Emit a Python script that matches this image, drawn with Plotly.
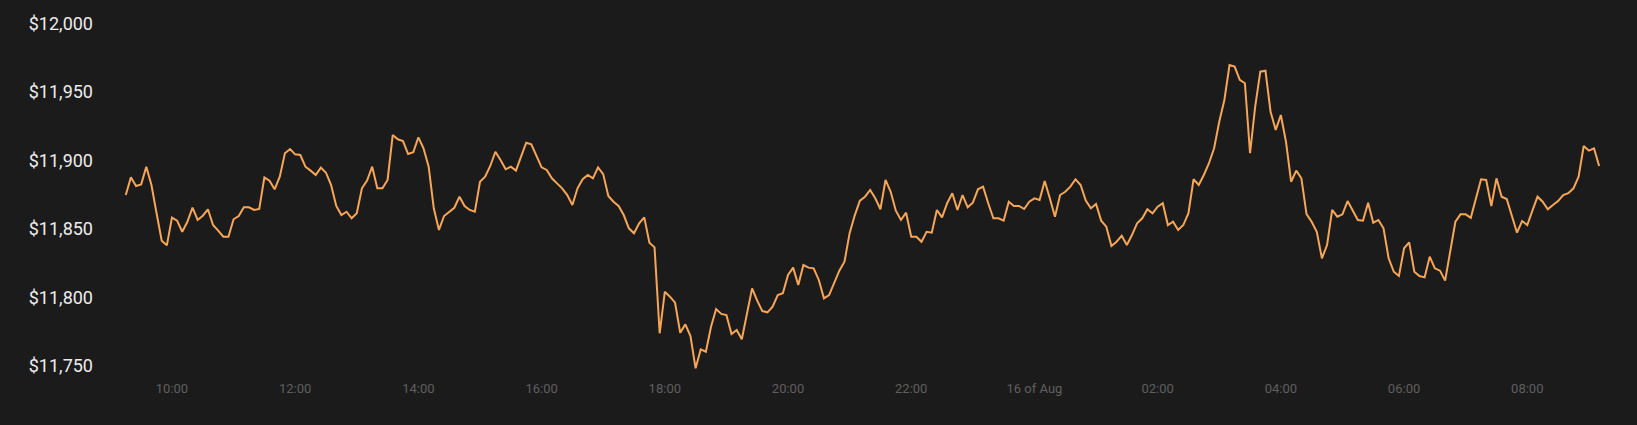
import pandas as pd
import plotly.graph_objects as go

# 5-minute BTC/USD prices, 15 Aug 09:15 -> 16 Aug 09:10
prices_part1 = [11874.8, 11887.7, 11881.4, 11882.6, 11895.5, 11882.1, 11861.5, 11841.5, 11838.1, 11858.3,
                11856.1, 11848.0, 11855.3, 11865.6, 11856.6, 11859.7, 11864.4, 11852.9, 11848.8, 11844.4,
                11844.4, 11857.1, 11859.5, 11865.8, 11865.8, 11863.9, 11864.6, 11887.7, 11885.3, 11879.0,
                11888.2, 11905.3, 11908.4, 11904.5, 11904.0, 11895.5]
prices_part2 = [11892.6, 11889.4, 11894.8, 11891.1, 11882.1, 11866.8, 11860.2, 11862.6, 11857.8, 11861.5,
                11879.7, 11885.3, 11895.5, 11879.7, 11879.7, 11885.8, 11918.6, 11915.5, 11914.2, 11904.7,
                11906.0, 11916.9, 11908.9, 11895.5, 11865.1, 11849.3, 11859.5, 11862.6, 11865.5, 11873.6,
                11866.8, 11863.9, 11862.6, 11884.5, 11888.2, 11896.0]
prices_part3 = [11906.4, 11900.4, 11893.6, 11895.5, 11892.6, 11902.8, 11913.0, 11911.8, 11904.0, 11895.0,
                11893.1, 11887.0, 11883.3, 11879.7, 11874.8, 11867.5, 11879.7, 11886.3, 11889.4, 11887.0,
                11895.0, 11890.1, 11874.1, 11869.9, 11866.8, 11860.2, 11850.5, 11846.9, 11854.2, 11858.5,
                11840.0, 11836.6, 11773.9, 11804.2, 11800.6, 11796.2]
prices_part4 = [11774.3, 11780.4, 11771.9, 11748.3, 11762.2, 11760.4, 11778.7, 11791.6, 11788.0, 11787.2,
                11773.4, 11776.3, 11769.5, 11788.5, 11806.7, 11797.7, 11790.1, 11789.2, 11793.3, 11801.8,
                11803.1, 11816.4, 11821.8, 11809.1, 11823.7, 11821.8, 11821.3, 11812.8, 11799.4, 11801.8,
                11810.4, 11819.6, 11826.1, 11847.0, 11860.0]
prices_part5 = [11870.7, 11873.6, 11878.5, 11872.4, 11864.4, 11885.8, 11877.2, 11863.4, 11856.6, 11861.9,
                11844.4, 11844.4, 11840.7, 11848.0, 11847.3, 11863.9, 11858.5, 11868.8, 11876.1, 11863.9,
                11874.8, 11865.8, 11869.2, 11879.0, 11880.9, 11868.8, 11857.8, 11857.8, 11856.1, 11869.9,
                11866.8, 11866.8, 11864.6, 11869.9, 11872.4, 11871.2]
prices_part6 = [11885.0, 11872.4, 11859.0, 11874.8, 11877.2, 11880.9, 11886.3, 11882.1, 11870.7, 11865.1,
                11868.2, 11856.1, 11851.7, 11837.6, 11840.7, 11845.1, 11838.3, 11845.6, 11854.2, 11857.8,
                11864.4, 11861.5, 11866.3, 11868.8, 11852.9, 11855.3, 11849.3, 11852.9, 11861.5, 11886.3,
                11882.1, 11889.4, 11898.0, 11908.9]
prices_part7 = [11928.3, 11944.2, 11969.7, 11968.5, 11958.8, 11956.4, 11905.3, 11939.3, 11964.8, 11965.5,
                11935.6, 11922.3, 11933.2, 11913.7, 11884.5, 11892.6, 11887.0, 11860.9, 11855.3, 11848.0,
                11828.6, 11838.3, 11863.9, 11859.0, 11860.7, 11870.4, 11863.9, 11856.6, 11856.1, 11869.2,
                11854.6, 11856.6, 11850.5, 11828.6, 11818.8, 11815.7, 11835.9]
prices_part8 = [11840.3, 11818.8, 11815.7, 11814.7, 11829.8, 11821.3, 11819.6, 11812.3, 11834.7, 11855.3,
                11860.7, 11860.7, 11858.2, 11872.4, 11886.3, 11885.8, 11866.8, 11887.0, 11873.6, 11871.9,
                11860.2, 11847.3, 11855.8, 11852.9, 11863.4, 11873.6, 11869.9, 11864.4, 11867.5, 11870.4,
                11874.8, 11876.1, 11879.7, 11888.2, 11910.6, 11907.2, 11908.9, 11896.0]

start_time = "2020-08-15 09:15"
interval = "5min"

y_tickvals = [11750, 11800, 11850, 11900, 11950, 12000]
y_ticktext = ["$11,750", "$11,800", "$11,850", "$11,900", "$11,950", "$12,000"]
x_tickvals = ["2020-08-15 10:00", "2020-08-15 12:00", "2020-08-15 14:00", "2020-08-15 16:00",
              "2020-08-15 18:00", "2020-08-15 20:00", "2020-08-15 22:00", "2020-08-16 00:00",
              "2020-08-16 02:00", "2020-08-16 04:00", "2020-08-16 06:00", "2020-08-16 08:00"]
x_ticktext = ["10:00", "12:00", "14:00", "16:00", "18:00", "20:00", "22:00", "16 of Aug",
              "02:00", "04:00", "06:00", "08:00"]

prices = (prices_part1 + prices_part2 + prices_part3 + prices_part4 +
          prices_part5 + prices_part6 + prices_part7 + prices_part8)
times = pd.date_range(start=start_time, periods=len(prices), freq=interval)

BG = "#1c1b1b"

fig = go.Figure()
fig.add_trace(go.Scatter(
    x=times, y=prices, mode="lines",
    line=dict(color="#f7a658", width=2),
    hoverinfo="skip", showlegend=False,
))

fig.update_layout(
    width=1637, height=425,
    paper_bgcolor=BG, plot_bgcolor=BG,
    margin=dict(l=100, r=20, t=16, b=52),
    font=dict(family="Roboto"),
    xaxis=dict(
        range=["2020-08-15 08:49:54", "2020-08-16 09:27:24"],
        tickvals=x_tickvals, ticktext=x_ticktext,
        showgrid=False, zeroline=False, showline=False, ticks="",
        tickfont=dict(family="Roboto", size=13, color="#5f5f5f"),
        ticklabelstandoff=6,
    ),
    yaxis=dict(
        range=[11744.9, 12005.47],
        tickvals=y_tickvals, ticktext=y_ticktext,
        showgrid=False, zeroline=False, showline=False, ticks="",
        tickfont=dict(family="Roboto", size=18, color="#ececec"),
        ticklabelstandoff=6,
    ),
)

fig.write_html(
    "out.html",
    config={"displayModeBar": False},
    post_script="document.body.style.margin='0';document.body.style.background='#1c1b1b';document.body.style.overflow='hidden';",
)
